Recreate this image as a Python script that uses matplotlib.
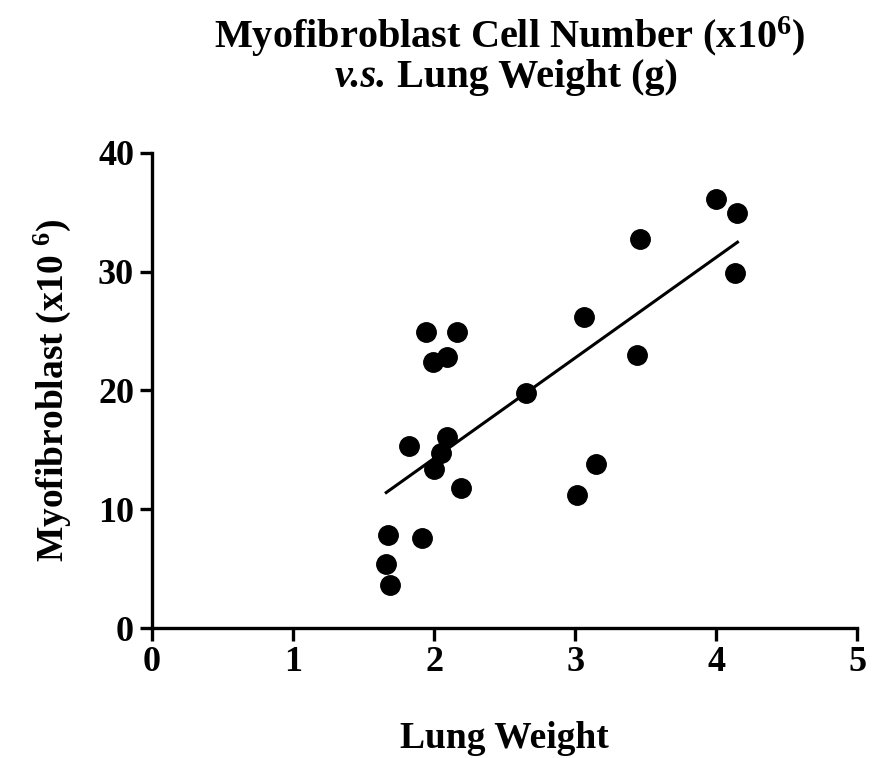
import numpy as np
import matplotlib
matplotlib.use("Agg")
import matplotlib.pyplot as plt

# lung weight (g) vs myofibroblast count (x10^6)
lung_weight = [1.94, 2.16, 1.99, 2.09, 1.82, 2.09, 2.05, 2.00, 2.19,
               1.67, 1.91, 1.66, 1.69, 2.65, 3.06, 3.44, 3.46, 4.00,
               4.15, 4.13, 3.15, 3.01]
myofibroblast = [24.9, 24.9, 22.4, 22.8, 15.3, 16.1, 14.7, 13.4, 11.8,
                 7.8, 7.6, 5.4, 3.6, 19.8, 26.2, 23.0, 32.7, 36.1,
                 34.9, 29.9, 13.8, 11.2]
x_ticks = [0, 1, 2, 3, 4, 5]
y_ticks = [0, 10, 20, 30, 40]

plt.rcParams['font.family'] = ['Liberation Serif', 'DejaVu Serif']
plt.rcParams['font.weight'] = 'bold'
plt.rcParams['mathtext.fontset'] = 'custom'
plt.rcParams['mathtext.rm'] = 'Liberation Serif:bold'
plt.rcParams['mathtext.bf'] = 'Liberation Serif:bold'
plt.rcParams['mathtext.it'] = 'Liberation Serif:italic:bold'

fig = plt.figure(figsize=(8.74, 7.58), dpi=100)
ax = fig.add_axes([0.174, 0.1715, 0.807, 0.627])

x = np.array(lung_weight)
y = np.array(myofibroblast)
ax.plot(x, y, 'o', color='black', markersize=14, zorder=3)

# linear regression across the data range
slope, intercept = np.polyfit(x, y, 1)
xs = np.array([x.min(), x.max()])
ax.plot(xs, slope * xs + intercept, color='black', linewidth=2.2, zorder=2)

ax.set_xlim(0, 5)
ax.set_ylim(0, 40)
ax.set_xticks(x_ticks)
ax.set_yticks(y_ticks)
ax.spines['top'].set_visible(False)
ax.spines['right'].set_visible(False)
for s in ('left', 'bottom'):
    ax.spines[s].set_linewidth(2.4)
    ax.spines[s].set_clip_on(False)
ax.tick_params(width=2.4, length=9, labelsize=26, pad=4)
for lbl in ax.get_xticklabels() + ax.get_yticklabels():
    lbl.set_fontweight('bold')

ax.set_xlabel('Lung Weight', fontsize=27, fontweight='bold', labelpad=30)
ax.set_ylabel('Myofibroblast (x10 $^{6}$)', fontsize=27, fontweight='bold', labelpad=18)

fig.text(0.583, 0.951, 'Myofibroblast Cell Number (x10$^{6}$)', ha='center', va='center',
         fontsize=29, fontweight='bold')
# second title line: italic "v.s." followed by the bold rest
vs = fig.text(0.383, 0.898, 'v.s.', ha='left', va='center', fontsize=29,
              fontweight='bold', fontstyle='italic')
fig.add_artist(plt.Annotation(' Lung Weight (g)', xy=(1, 0), xycoords=vs,
                              va='bottom', ha='left', fontsize=29, fontweight='bold'))

fig.savefig('out.png', dpi=100)
